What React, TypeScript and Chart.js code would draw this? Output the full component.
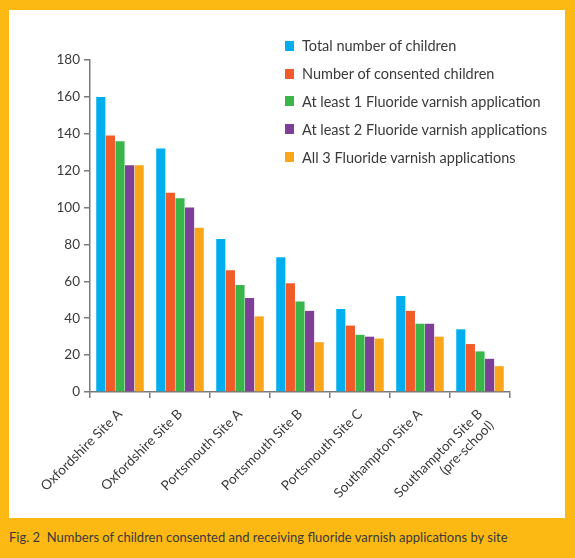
import React, { useEffect, useRef } from "react";
import { Chart, registerables } from "chart.js";

Chart.register(...registerables);

const SITES: (string | string[])[] = [
  "Oxfordshire Site A",
  "Oxfordshire Site B",
  "Portsmouth Site A",
  "Portsmouth Site B",
  "Portsmouth Site C",
  "Southampton Site A",
  ["Southampton Site B", "(pre-school)"],
];

const SERIES_NAMES = [
  "Total number of children",
  "Number of consented children",
  "At least 1 Fluoride varnish application",
  "At least 2 Fluoride varnish applications",
  "All 3 Fluoride varnish applications",
];

const TOTAL = [160, 132, 83, 73, 45, 52, 34];
const CONSENTED = [139, 108, 66, 59, 36, 44, 26];
const AT_LEAST_1 = [136, 105, 58, 49, 31, 37, 22];
const AT_LEAST_2 = [123, 100, 51, 44, 30, 37, 18];
const ALL_3 = [123, 89, 41, 27, 29, 30, 14];

const COLORS = ["#00AEEF", "#F15A29", "#39B54A", "#7F3F98", "#F9A61A"];
const Y_TICKS = [0, 20, 40, 60, 80, 100, 120, 140, 160, 180];

const FONT = "Lato, 'DejaVu Sans', sans-serif";
const TEXT = "#3a3a3a";
const AXIS = "#7a7a7a";

export default function App() {
  const ref = useRef<HTMLCanvasElement | null>(null);

  useEffect(() => {
    if (!ref.current) return;
    const values = [TOTAL, CONSENTED, AT_LEAST_1, AT_LEAST_2, ALL_3];
    const chart = new Chart(ref.current, {
      type: "bar",
      data: {
        labels: SITES,
        datasets: SERIES_NAMES.map((name, i) => ({
          label: name,
          data: values[i],
          backgroundColor: COLORS[i],
          borderWidth: 0,
          categoryPercentage: 0.8,
          barPercentage: 0.95,
        })),
      },
      options: {
        responsive: false,
        animation: false,
        devicePixelRatio: 1,
        layout: { padding: { left: 0, right: 55, top: 50, bottom: 0 } },
        plugins: {
          legend: { display: false },
          tooltip: { enabled: false },
        },
        scales: {
          x: {
            grid: {
              display: true,
              drawOnChartArea: false,
              drawTicks: true,
              tickLength: 6,
              color: AXIS,
              lineWidth: 1.5,
              offset: true,
            },
            border: { display: true, color: AXIS, width: 1.5 },
            ticks: {
              color: TEXT,
              font: { family: FONT, size: 13.5 },
              maxRotation: 45,
              minRotation: 45,
              padding: 8,
              autoSkip: false,
            },
            afterFit: (s: any) => {
              s.height = 126;
            },
          },
          y: {
            min: 0,
            max: 180,
            afterBuildTicks: (s: any) => {
              s.ticks = Y_TICKS.map((v) => ({ value: v }));
            },
            grid: {
              display: true,
              drawOnChartArea: false,
              drawTicks: true,
              tickLength: 6,
              color: AXIS,
              lineWidth: 1.5,
            },
            border: { display: true, color: AXIS, width: 1.5 },
            ticks: {
              color: TEXT,
              font: { family: FONT, size: 13.5 },
              padding: 4,
            },
            afterFit: (s: any) => {
              s.width = 81;
            },
          },
        },
      },
    });
    return () => chart.destroy();
  }, []);

  return (
    <div
      style={{
        position: "fixed",
        left: 0,
        top: 0,
        width: 575,
        height: 558,
        background: "#FDB913",
        fontFamily: FONT,
      }}
    >
      <div
        style={{
          position: "absolute",
          left: 9,
          top: 10,
          width: 556,
          height: 508,
          background: "#ffffff",
        }}
      >
        <canvas ref={ref} width={556} height={508} style={{ display: "block" }} />
        <div style={{ position: "absolute", left: 276, top: 22 }}>
          {SERIES_NAMES.map((name, i) => (
            <div
              key={name}
              style={{
                display: "flex",
                alignItems: "center",
                height: 27.8,
                fontSize: 14.5,
                color: TEXT,
                whiteSpace: "nowrap",
              }}
            >
              <span
                style={{
                  display: "inline-block",
                  width: 9,
                  height: 10,
                  background: COLORS[i],
                  marginRight: 8,
                }}
              />
              {name}
            </div>
          ))}
        </div>
      </div>
      <div
        style={{
          position: "absolute",
          left: 9,
          top: 529,
          fontSize: 13,
          color: "#3a3a3a",
          whiteSpace: "nowrap",
        }}
      >
        Fig. 2&nbsp;&nbsp;Numbers of children consented and receiving fluoride varnish applications by site
      </div>
    </div>
  );
}
